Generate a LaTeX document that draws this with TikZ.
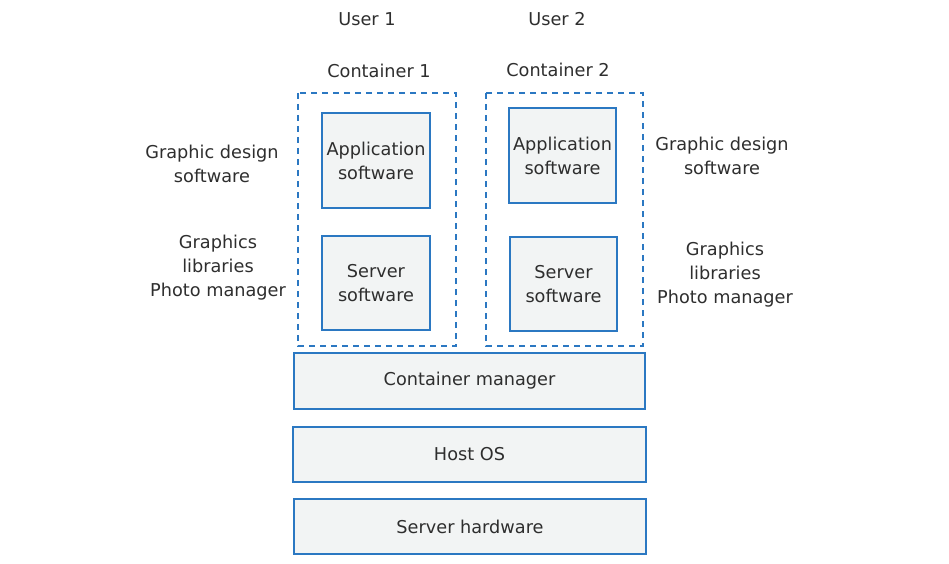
\documentclass[tikz,border=0pt]{standalone}
\usepackage{fontspec}
\setmainfont{DejaVu Sans}
\definecolor{edgeblue}{HTML}{2B78C2}
\definecolor{boxfill}{HTML}{F2F4F4}
\definecolor{ink}{HTML}{2E2E2E}
\begin{document}
\begin{tikzpicture}[x=1pt,y=-1pt,
  txt/.style={text=ink,font=\fontsize{17.7}{24}\selectfont,align=center,inner sep=0pt},
  solidbox/.style={draw=edgeblue,line width=2.3pt,fill=boxfill,inner sep=0pt},
  dashbox/.style={draw=edgeblue,line width=2.3pt,dash pattern=on 6pt off 5pt}]
\useasboundingbox (0,0) rectangle (949,564);
% containers
\draw[dashbox] (298,93) rectangle (456,346);
\draw[dashbox] (486,93) rectangle (643,346);
% inner software boxes
\node[solidbox,minimum width=108pt,minimum height=95pt] (app1) at (376,160.5) {};
\node[solidbox,minimum width=108pt,minimum height=94pt] (srv1) at (376,283) {};
\node[solidbox,minimum width=107pt,minimum height=95pt] (app2) at (562.5,155.5) {};
\node[solidbox,minimum width=107pt,minimum height=94pt] (srv2) at (563.5,284) {};
\node[txt] at (app1) {Application\\software};
\node[txt] at (srv1) {Server\\software};
\node[txt] at (app2) {Application\\software};
\node[txt] at (srv2) {Server\\software};
% stack layers
\node[solidbox,minimum width=351pt,minimum height=56pt] (cm) at (469.5,381) {};
\node[txt] at (cm) {Container manager};
\node[solidbox,minimum width=353pt,minimum height=55pt] (os) at (469.5,454.5) {};
\node[txt] at (os) {Host OS};
\node[solidbox,minimum width=352pt,minimum height=55pt] (hw) at (470,526.5) {};
\node[txt] at (hw) {Server hardware};
% titles
\node[txt] (u1) at (367,19) {User 1};
\node[txt] (u2) at (557,19) {User 2};
\node[txt] (c1) at (379,71) {Container 1};
\node[txt] (c2) at (558,70) {Container 2};
% side labels
\node[txt] (l1) at (212,164) {Graphic design\\software};
\node[txt] (l2) at (218,268) {Graphics\\libraries\\Photo manager};
\node[txt] (r1) at (722,156) {Graphic design\\software};
\node[txt] (r2) at (725,275) {Graphics\\libraries\\Photo manager};
\end{tikzpicture}
\end{document}
